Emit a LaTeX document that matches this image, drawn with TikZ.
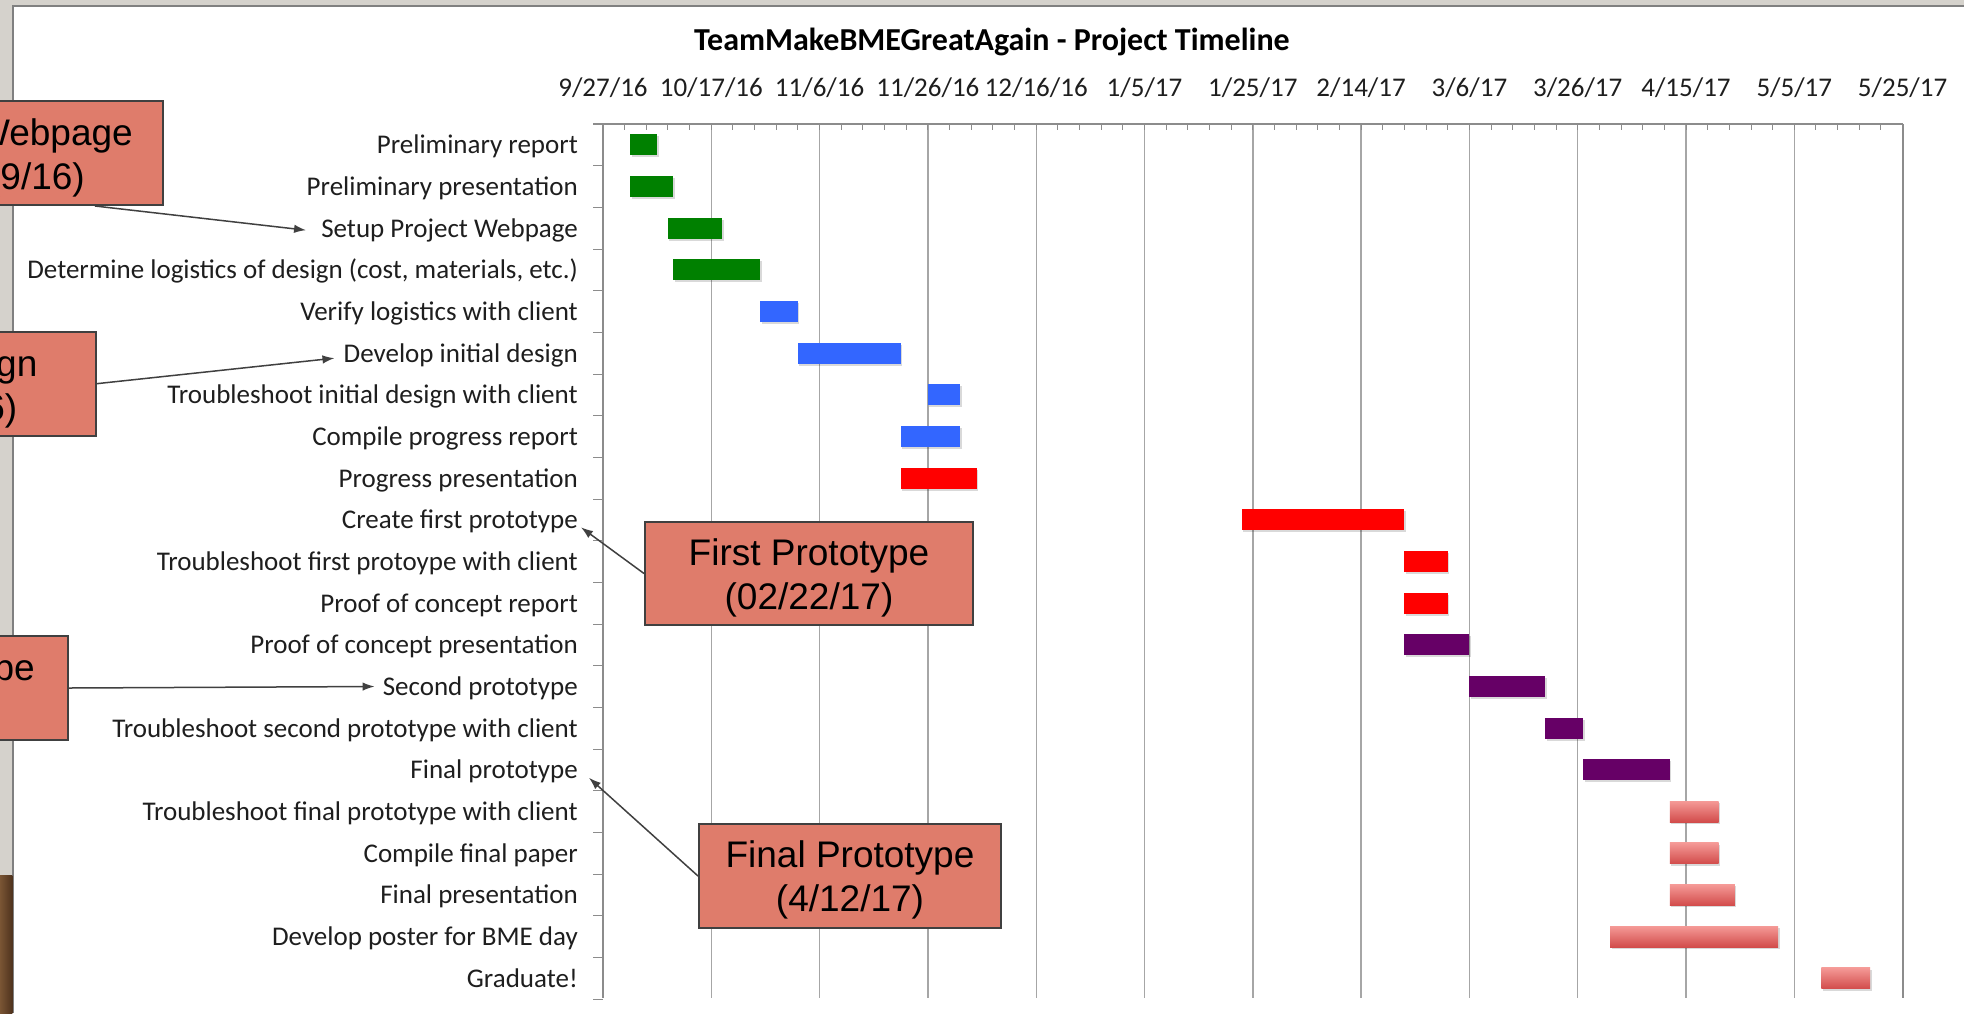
\documentclass[tikz,border=0pt]{standalone}
\usepackage{fontspec}
\setmainfont{Carlito}
\newfontfamily\callfont{Liberation Sans}
\usetikzlibrary{arrows.meta,calc}
\definecolor{bggray}{HTML}{D5D2CC}
\definecolor{framegray}{HTML}{808080}
\definecolor{gridgray}{HTML}{A6A6A6}
\definecolor{axgray}{HTML}{8C8C8C}
\definecolor{bargreen}{HTML}{008000}
\definecolor{barblue}{HTML}{3366FF}
\definecolor{barred}{HTML}{FF0000}
\definecolor{barpurple}{HTML}{660066}
\definecolor{pinktop}{HTML}{F59A97}
\definecolor{pinkbot}{HTML}{D24C4B}
\definecolor{callfill}{HTML}{DF7C6B}
\definecolor{callline}{HTML}{404040}
\definecolor{txt}{HTML}{1E1E1E}
\definecolor{woodA}{HTML}{7A5534}
\definecolor{woodB}{HTML}{4E321D}
\newcommand\gbar[4]{%
  \fill[black,opacity=0.15] ({603+5.415*#2+1.5},{124+41.667*(#1+0.5)-8.5}) rectangle ({603+5.415*#3+1.5},{124+41.667*(#1+0.5)+12.5});
  \path[#4] ({603+5.415*#2},{124+41.667*(#1+0.5)-10.5}) rectangle ({603+5.415*#3},{124+41.667*(#1+0.5)+10.5});
}
\begin{document}
\begin{tikzpicture}[x=1pt,y=-1pt,
  lab/.style={anchor=base east,inner sep=0pt,font=\fontsize{27}{32}\selectfont,text=txt},
  datelab/.style={anchor=base,inner sep=0pt,font=\fontsize{27}{32}\selectfont,text=txt},
  titlelab/.style={anchor=base,inner sep=0pt,font=\fontsize{32}{38}\selectfont\bfseries,text=black},
  callout/.style={draw=callline,line width=2pt,fill=callfill,inner sep=0pt},
  calltext/.style={font=\callfont\fontsize{37}{44}\selectfont,text=black,align=center},
  callpart/.style={anchor=base east,inner sep=0pt,font=\callfont\fontsize{37}{44}\selectfont,text=black},
  callarrow/.style={draw=callline,line width=1.5pt,-{Latex[length=12pt,width=8.5pt]}},
  gridline/.style={draw=gridgray,line width=1.4pt},
  axisline/.style={draw=axgray,line width=1.4pt},
  tickline/.style={draw=axgray,line width=1pt},
  greenbar/.style={fill=bargreen},
  bluebar/.style={fill=barblue},
  redbar/.style={fill=barred},
  purplebar/.style={fill=barpurple},
  pinkbar/.style={top color=pinktop,bottom color=pinkbot}
]
\useasboundingbox (0,0) rectangle (1964,1013);
\clip (0,0) rectangle (1964,1013);
% background
\fill[bggray] (0,0) rectangle (1964,1013);
\fill[white] (13,6) rectangle (1964,1013);
\draw[framegray,line width=1.2pt] (13,1013) -- (13,6) -- (1964,6);
\path[left color=woodA,right color=woodB] (0,875) rectangle (12.4,1013);
% grid
\foreach \k in {1,...,11} \draw[gridline] ({603+108.3*\k},124) -- ({603+108.3*\k},998);
\foreach \m in {1,...,59} \draw[tickline] ({603+21.66*\m},124) -- ({603+21.66*\m},130);
\draw[axisline] (1903,124) -- (1903,998);
\draw[axisline] (593,124) -- (1903,124);
\draw[axisline] (603,124) -- (603,998);
\foreach \i in {1,...,21} \draw[tickline] (593,{124+41.667*\i}) -- (603,{124+41.667*\i});
% title and dates
\node[titlelab] (title) at (992,50) {TeamMakeBMEGreatAgain - Project Timeline};
\foreach \d [count=\k from 0] in {9/27/16,10/17/16,11/6/16,11/26/16,12/16/16,1/5/17,1/25/17,2/14/17,3/6/17,3/26/17,4/15/17,5/5/17,5/25/17}
  \node[datelab] (d\k) at ({603+108.3*\k},96) {\d};
% task labels
\foreach \t [count=\i from 0] in {Preliminary report,Preliminary presentation,Setup Project Webpage,{Determine logistics of design (cost, materials, etc.)},Verify logistics with client,Develop initial design,Troubleshoot initial design with client,Compile progress report,Progress presentation,Create first prototype,Troubleshoot first protoype with client,Proof of concept report,Proof of concept presentation,Second prototype,Troubleshoot second prototype with client,Final prototype,Troubleshoot final prototype with client,Compile final paper,Final presentation,Develop poster for BME day,Graduate!}
  \node[lab] (l\i) at (578,{124+41.667*(\i+0.5)+9}) {\t};
% bars
\gbar{0}{5}{10}{greenbar}
\gbar{1}{5}{13}{greenbar}
\gbar{2}{12}{22}{greenbar}
\gbar{3}{13}{29}{greenbar}
\gbar{4}{29}{36}{bluebar}
\gbar{5}{36}{55}{bluebar}
\gbar{6}{60}{66}{bluebar}
\gbar{7}{55}{66}{bluebar}
\gbar{8}{55}{69}{redbar}
\gbar{9}{118}{148}{redbar}
\gbar{10}{148}{156}{redbar}
\gbar{11}{148}{156}{redbar}
\gbar{12}{148}{160}{purplebar}
\gbar{13}{160}{174}{purplebar}
\gbar{14}{174}{181}{purplebar}
\gbar{15}{181}{197}{purplebar}
\gbar{16}{197}{206}{pinkbar}
\gbar{17}{197}{206}{pinkbar}
\gbar{18}{197}{209}{pinkbar}
\gbar{19}{186}{217}{pinkbar}
\gbar{20}{225}{234}{pinkbar}
% callouts
\node[callout,anchor=north east,minimum width=170pt,minimum height=104pt] (c1) at (164,100) {};
\node[callpart] (c1a) at (133,145) {Webpage};
\node[callpart] (c1b) at (85,189) {(9/16)};
\node[callout,anchor=north east,minimum width=104pt,minimum height=104pt] (c2) at (96.5,330.7) {};
\node[callpart] (c2a) at (37.6,376) {Design};
\node[callpart] (c2b) at (17.5,420) {6)};
\node[callout,anchor=north east,minimum width=80pt,minimum height=104pt] (c3) at (69,635) {};
\node[callpart] (c3a) at (35,680) {Prototype};
\node[callout,calltext,anchor=north west,minimum width=328pt,minimum height=103pt] (c4) at (644,521) {\rule{0pt}{35pt}First Prototype\\(02/22/17)};
\node[callout,calltext,anchor=north west,minimum width=302pt,minimum height=104pt] (c5) at (698,823) {\rule{0pt}{35pt}Final Prototype\\(4/12/17)};
% arrows
\draw[callarrow] ($(c1.south east)+(-69,0)$) -- ($(l2.base west)+(-15,-7)$);
\draw[callarrow] (c2.east) -- ($(l5.base west)+(-9,-4)$);
\draw[callarrow] (c3.east) -- ($(l13.base west)+(-8,-9)$);
\draw[callarrow] (c4.west) -- ($(l9.base east)+(3,-1.5)$);
\draw[callarrow] (c5.west) -- ($(l15.base east)+(11,-1)$);
\end{tikzpicture}
\end{document}
